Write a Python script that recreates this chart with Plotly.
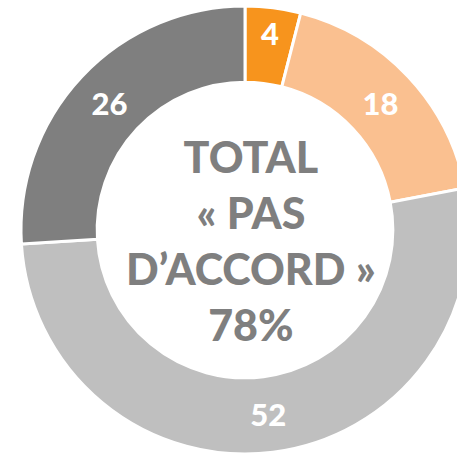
import plotly.graph_objects as go

labels = ["Tout à fait d'accord", "Plutôt d'accord", "Plutôt pas d'accord", "Pas du tout d'accord"]
values = [4, 18, 52, 26]
colors = ["#F7941D", "#FAC090", "#BFBFBF", "#7F7F7F"]
center_lines = ["TOTAL", "« PAS", "D’ACCORD »", "78%"]

fig = go.Figure(
    go.Pie(
        labels=labels,
        values=values,
        hole=0.66,
        sort=False,
        direction="clockwise",
        rotation=0,
        marker=dict(colors=colors, line=dict(color="white", width=3)),
        textinfo="value",
        textposition="inside",
        insidetextorientation="horizontal",
        textfont=dict(family="Lato", size=31, color="white", weight=900),
        showlegend=False,
        domain=dict(x=[0, 1], y=[0, 1]),
    )
)

fig.add_annotation(
    text="<br>".join(center_lines),
    x=0.513, y=0.477, xref="paper", yref="paper",
    showarrow=False,
    font=dict(family="Lato", size=43, color="#7F7F7F", weight=900),
    align="center",
)

fig.update_layout(
    width=469, height=455,
    margin=dict(l=21, r=0, t=6, b=1),
    paper_bgcolor="white",
    plot_bgcolor="white",
    uniformtext=dict(minsize=31, mode="show"),
)

fig.write_html(
    "out.html",
    config={"displayModeBar": False},
    post_script="document.body.style.margin='0';document.body.style.overflow='hidden';",
)
